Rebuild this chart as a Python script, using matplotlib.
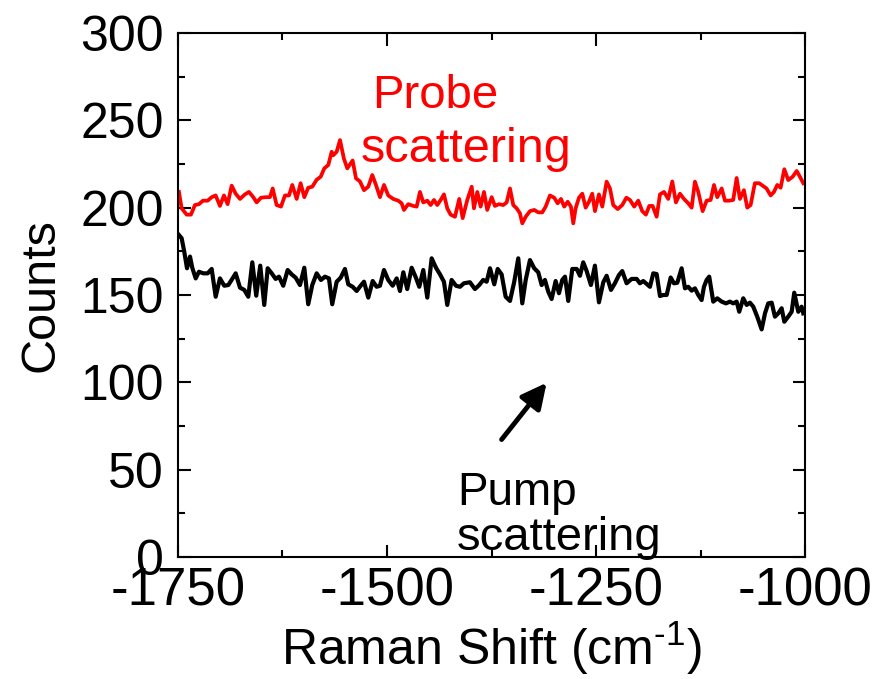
import numpy as np
import matplotlib.pyplot as plt

# --- data (Raman shift in cm-1, counts) ---
probe_x = [-1748.8, -1745.6, -1739.6, -1734.5, -1729.7, -1724.9, -1720.1, -1714.5, -1709.7, -1704.9,
           -1699.8, -1695.0, -1690.6, -1685.8, -1681.0, -1675.8, -1669.9, -1665.1, -1659.9, -1655.9,
           -1650.7, -1645.1, -1640.0, -1636.7, -1632.0, -1626.8, -1622.0, -1617.2, -1613.3, -1608.0,
           -1603.3, -1598.9, -1594.2, -1589.4, -1584.1, -1579.3, -1575.0, -1570.2, -1566.2, -1564.3,
           -1560.2, -1556.2, -1551.5, -1547.5, -1544.3, -1541.1, -1537.1, -1532.3, -1527.5, -1522.4,
           -1517.6, -1513.2, -1508.4, -1503.6, -1498.5, -1492.5, -1486.5, -1482.5, -1479.7, -1474.6,
           -1468.6, -1464.5, -1460.6, -1456.6, -1451.8, -1447.8, -1443.8, -1439.9, -1435.8, -1431.9,
           -1427.9, -1423.9, -1418.7, -1413.6, -1409.5, -1404.0, -1398.7, -1396.0, -1392.0, -1388.0,
           -1384.0, -1380.1, -1374.8, -1370.9, -1366.1, -1360.9, -1356.9, -1352.9, -1349.0, -1344.9,
           -1341.0, -1338.2, -1334.1, -1329.0, -1323.9, -1319.1, -1314.3, -1310.2, -1305.1, -1300.0,
           -1295.9, -1291.9, -1288.0, -1283.9, -1280.0, -1277.2, -1274.4, -1270.4, -1266.4, -1262.4,
           -1258.4, -1254.5, -1251.3, -1246.5, -1242.5, -1237.3, -1233.3, -1229.4, -1224.1, -1218.6,
           -1213.7, -1209.4, -1204.3, -1199.5, -1194.7, -1190.3, -1186.3, -1182.3, -1177.5, -1173.5,
           -1168.7, -1163.6, -1158.8, -1154.4, -1149.6, -1144.8, -1139.7, -1135.6, -1131.7, -1127.7,
           -1122.5, -1117.7, -1112.9, -1108.9, -1105.0, -1099.7, -1095.8, -1090.6, -1085.9, -1081.8,
           -1077.9, -1073.1, -1069.1, -1065.1, -1060.0, -1054.8, -1050.7, -1046.1, -1041.1, -1037.2,
           -1033.2, -1029.2, -1024.8, -1020.1, -1014.8, -1010.0, -1006.1, -1002.1]
probe_y = [209, 199.6, 196, 196, 201.5, 202, 204, 204, 206, 207,
           201, 207, 202, 212.6, 208, 205, 207.6, 209, 206, 203,
           205.7, 206, 206, 211, 201.5, 200.6, 207, 207, 213, 205,
           214, 206, 211.4, 212, 216, 217.7, 222.5, 224.4, 232, 230,
           232, 238.7, 228, 222.5, 224.8, 227, 216.8, 215, 210, 212,
           218.7, 213, 206, 213, 207, 205, 204, 202.5, 198.7, 202,
           201, 200.6, 209, 203, 204, 201.5, 204.4, 201.5, 204.4, 207.6,
           199.6, 196, 194.8, 205, 194, 204.4, 212, 199.6, 209, 200.6,
           209, 198.7, 206, 201, 202, 201.5, 203, 211, 201.5, 199.6,
           196.8, 191, 194.8, 198, 198.7, 197.3, 197.3, 200.6, 207, 205.7,
           202.5, 205, 200.6, 203.4, 200.6, 191, 199.6, 205.7, 208, 200,
           203.4, 208, 198, 207.6, 200.6, 214.9, 211, 201.5, 199.2, 201.5,
           205.7, 204.4, 200.6, 204, 198, 196, 201, 201, 194.8, 207.6,
           209, 205, 215, 203, 208, 205, 202.5, 200, 214.9, 209,
           198, 204, 204.4, 213, 206, 211, 204, 204, 204.4, 217,
           205, 210, 200, 201.5, 214, 214, 212.6, 211, 207, 209,
           213, 211.4, 222, 215.8, 217.7, 221, 217.7, 214]

pump_x = [-1748.8, -1745.6, -1742.5, -1739.2, -1735.6, -1732.9, -1728.8, -1724.9, -1719.7, -1714.5,
          -1709.7, -1704.9, -1699.8, -1694.6, -1689.8, -1685.1, -1681.0, -1675.8, -1670.7, -1665.9,
          -1661.1, -1656.4, -1651.6, -1646.8, -1642.7, -1637.9, -1633.2, -1629.2, -1624.1, -1618.8,
          -1614.0, -1609.2, -1604.1, -1598.9, -1594.2, -1589.4, -1584.1, -1579.0, -1574.2, -1569.4,
          -1565.5, -1560.2, -1555.4, -1550.3, -1546.3, -1541.1, -1536.3, -1531.5, -1527.5, -1522.4,
          -1517.1, -1512.4, -1508.4, -1503.6, -1498.5, -1493.2, -1488.4, -1484.5, -1480.5, -1475.8,
          -1470.5, -1465.4, -1461.4, -1456.6, -1451.8, -1446.6, -1441.4, -1436.6, -1431.9, -1427.9,
          -1422.7, -1417.5, -1412.7, -1408.0, -1400.8, -1394.8, -1389.7, -1384.9, -1380.8, -1376.8,
          -1371.7, -1367.6, -1362.9, -1358.1, -1352.9, -1347.8, -1343.0, -1338.2, -1334.1, -1329.0,
          -1323.9, -1319.1, -1315.0, -1311.1, -1307.1, -1303.1, -1298.3, -1294.3, -1290.4, -1287.1,
          -1283.2, -1278.4, -1273.1, -1269.2, -1265.3, -1261.2, -1256.1, -1251.3, -1246.5, -1241.3,
          -1237.3, -1232.1, -1227.4, -1222.6, -1218.6, -1213.4, -1207.4, -1201.4, -1197.5, -1193.5,
          -1185.5, -1181.5, -1177.5, -1173.5, -1169.6, -1165.5, -1160.7, -1156.8, -1152.8, -1147.6,
          -1143.6, -1139.7, -1135.6, -1131.7, -1127.7, -1123.7, -1120.9, -1117.7, -1114.6, -1109.8,
          -1105.0, -1099.7, -1094.6, -1089.8, -1085.9, -1081.8, -1078.7, -1073.9, -1069.8, -1065.9,
          -1061.9, -1057.2, -1051.9, -1047.9, -1044.0, -1039.9, -1036.0, -1032.0, -1028.0, -1024.8,
          -1020.1, -1016.0, -1012.9, -1008.1, -1004.1, -1002.1]
pump_y = [184.3, 182.5, 174.8, 165.3, 172, 165.6, 159.5, 163.3, 162.4, 162.4,
          164.9, 149, 159.5, 155.3, 155.7, 159.2, 162.4, 154.2, 152.9, 149,
          168.7, 149.6, 166.8, 144.3, 165.3, 162.4, 159.2, 160.5, 155.3, 164.3,
          161.8, 159.9, 155.7, 165.6, 144.7, 155.7, 162.4, 158.6, 160.5, 159.5,
          144.7, 157.6, 159.9, 164.9, 156.1, 154.7, 152.3, 155.3, 157.6, 148.5,
          158, 154.7, 155.3, 164.3, 158.6, 155.3, 159.5, 152.3, 163, 153.4,
          165.6, 159.9, 154.7, 164.3, 148.5, 171, 165.6, 161.8, 157.6, 144.3,
          158.6, 155.3, 154.7, 156.7, 157.3, 153.4, 155.7, 158.6, 157.6, 165.3,
          156.1, 164.9, 161.8, 149, 146.6, 157.6, 171, 145.2, 158.6, 170,
          165.3, 163, 155.7, 158.6, 151.9, 147.7, 158, 151, 158.6, 160.5,
          146.6, 164.9, 164.9, 161, 168.7, 163.7, 155.7, 166.8, 145.8, 157.3,
          161, 152.9, 156.7, 161.4, 163.7, 156.7, 159.2, 159.2, 156.7, 158,
          154.7, 162.4, 162, 149.4, 150, 150, 160, 156.7, 157, 165.3,
          153.8, 154.7, 152.5, 153.8, 150, 147.1, 154.7, 158.6, 160.5, 146.2,
          148.1, 146.2, 145.2, 146.2, 145.2, 146.2, 140.4, 148.1, 144.3, 145.6,
          143.3, 137.6, 130.3, 139.5, 145.2, 145.6, 137.6, 139.5, 142.4, 134.7,
          137.6, 140.4, 151.3, 140.4, 143.3, 139.5]

x_ticks = [-1750, -1500, -1250, -1000]
y_ticks = [0, 50, 100, 150, 200, 250, 300]

plt.rcParams['font.family'] = ['Liberation Sans', 'DejaVu Sans']
plt.rcParams['axes.unicode_minus'] = False
plt.rcParams['mathtext.fontset'] = 'custom'
plt.rcParams['mathtext.rm'] = 'Liberation Sans'
plt.rcParams['mathtext.default'] = 'regular'

fig = plt.figure(figsize=(8.78, 6.79), dpi=100)
ax = fig.add_axes([0.2027, 0.1797, 0.7142, 0.7717])

ax.plot(probe_x, probe_y, color='red', lw=2.7)
ax.plot(pump_x, pump_y, color='black', lw=3.0)

ax.set_xlim(-1750, -1000)
ax.set_ylim(0, 300)
ax.set_xticks(x_ticks)
ax.set_xticks([-1625, -1375, -1125], minor=True)
ax.set_yticks(y_ticks)
ax.set_yticks(np.arange(25, 300, 50), minor=True)

for s in ax.spines.values():
    s.set_linewidth(1.5)
ax.tick_params(which='both', direction='in', top=True, right=True, width=1.5)
ax.tick_params(which='major', length=9)
ax.tick_params(which='minor', length=5)
ax.tick_params(axis='y', labelsize=36, pad=10)
ax.tick_params(axis='x', labelsize=38, pad=7)

ax.set_ylabel('Counts', fontsize=35, labelpad=12)
ax.set_xlabel(r'Raman Shift (cm$^{\text{-1}}$)', fontsize=36, labelpad=2)

ax.text(-1518, 257, 'Probe', color='red', fontsize=34)
ax.text(-1532, 226, 'scattering', color='red', fontsize=35)
ax.text(-1416, 30, 'Pump', color='black', fontsize=33)
ax.text(-1416, 4, 'scattering', color='black', fontsize=34, clip_on=False)

ax.annotate('', xy=(-1307, 101), xytext=(-1365, 66),
            arrowprops=dict(arrowstyle='-|>', color='black', lw=3.5, mutation_scale=38))

fig.savefig('out.png', dpi=100)
